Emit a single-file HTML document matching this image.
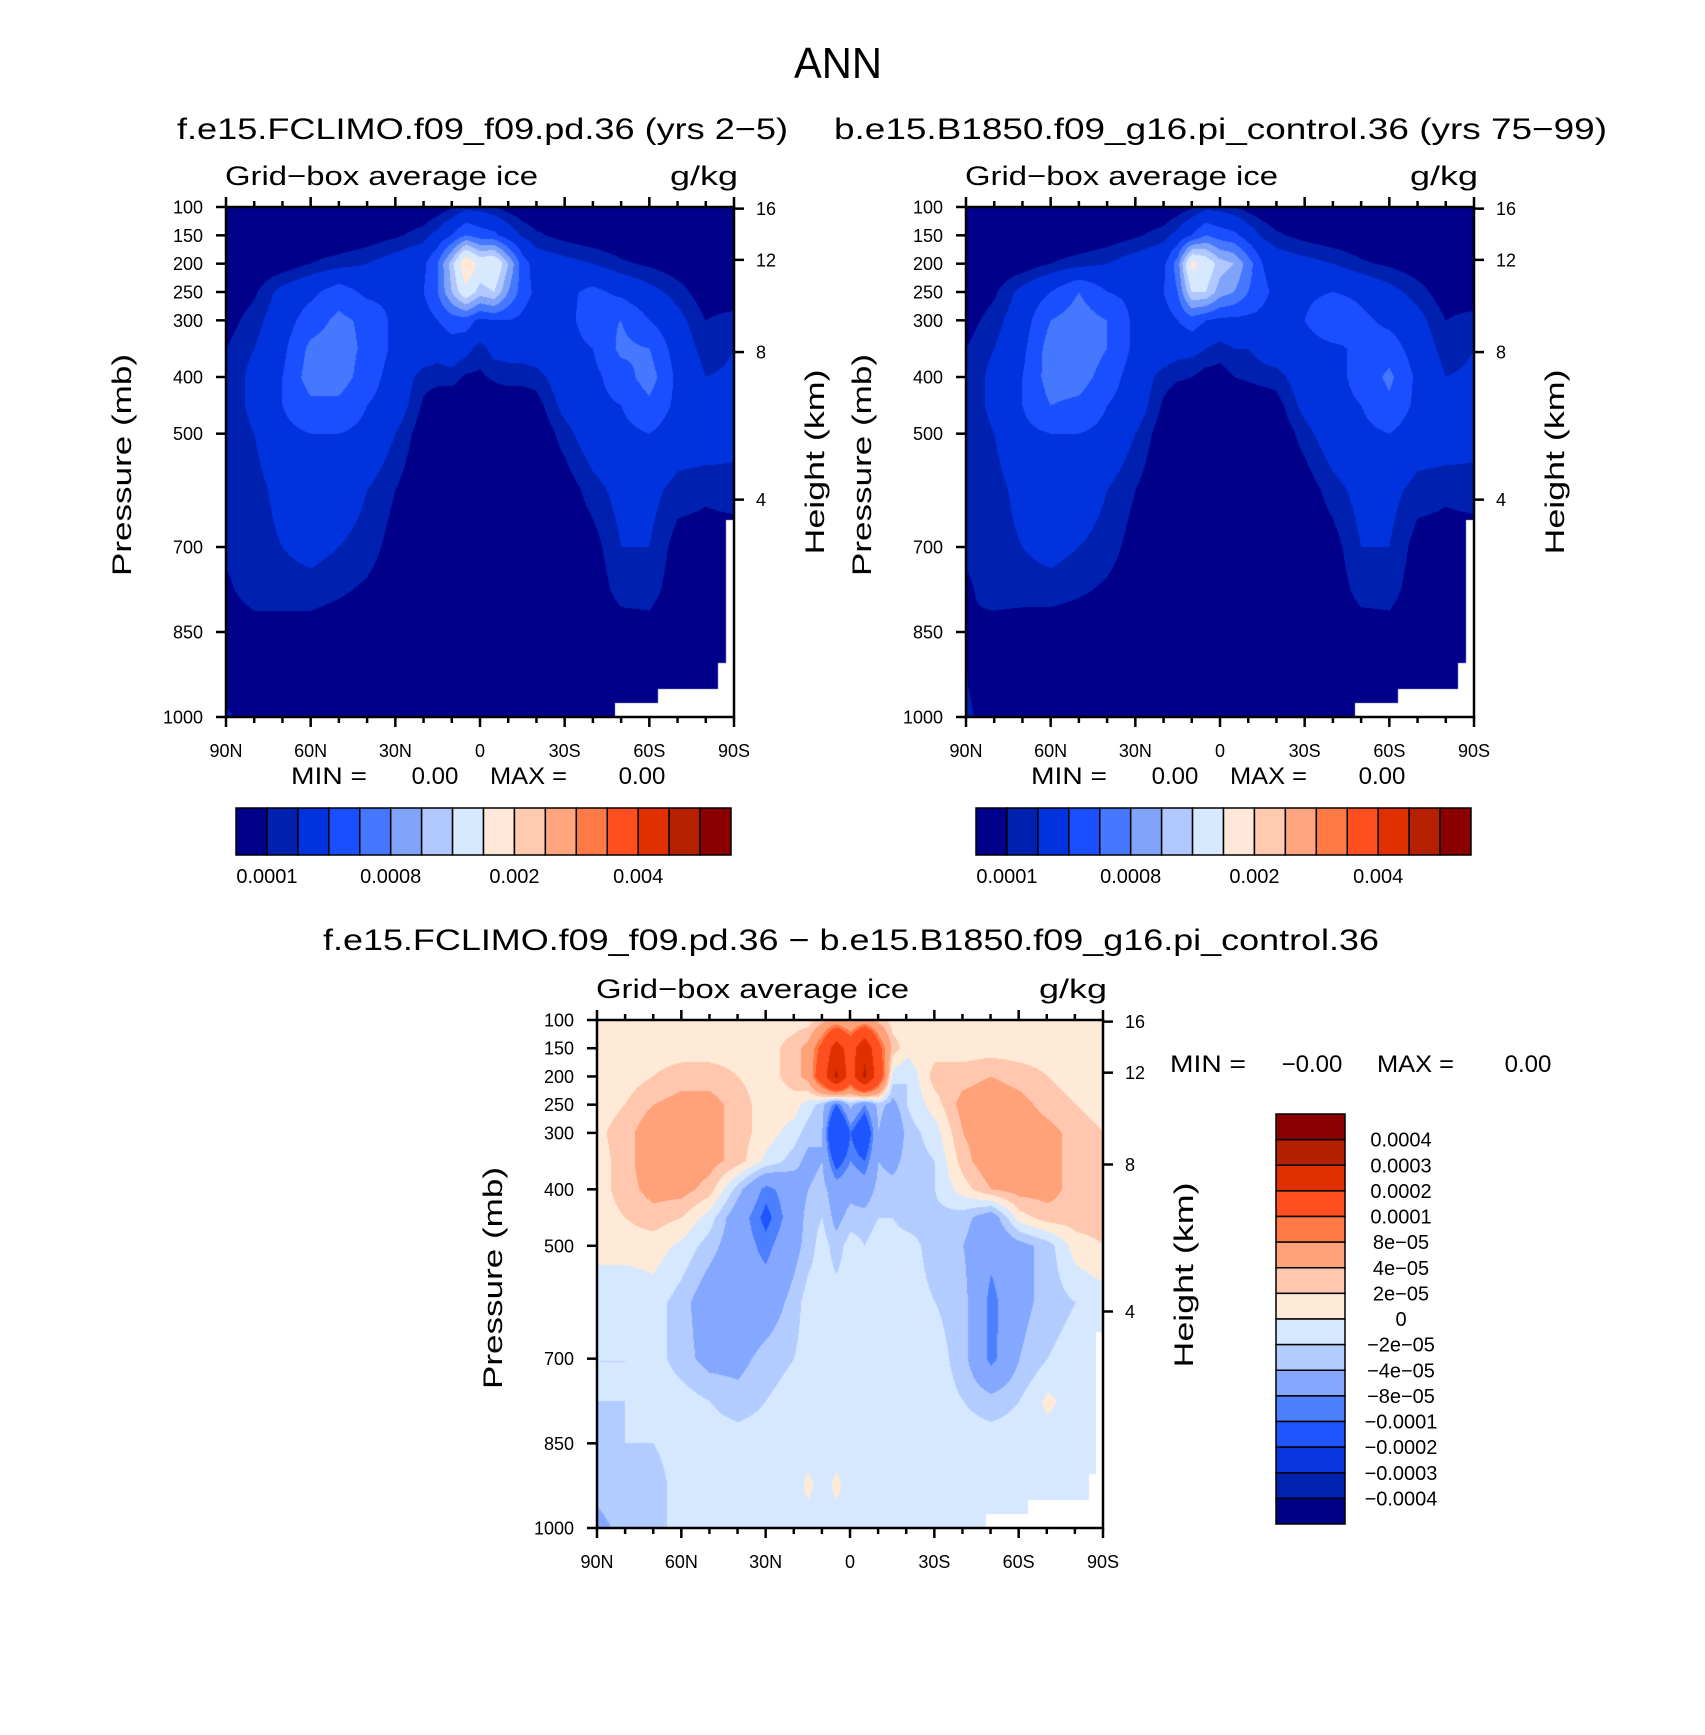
<!DOCTYPE html>
<html><head><meta charset="utf-8"><style>
html,body{margin:0;padding:0;background:#fff;}
#root{position:relative;width:1705px;height:1735px;overflow:hidden;}
canvas{position:absolute;}
svg{position:absolute;left:0;top:0;}
text{font-family:"Liberation Sans",sans-serif;fill:#000;}
</style></head><body>
<div id="root">
<canvas id="c1" width="508" height="510" style="left:226px;top:207px"></canvas>
<canvas id="c2" width="508" height="510" style="left:966px;top:207px"></canvas>
<canvas id="c3" width="507" height="508" style="left:597px;top:1020px"></canvas>
<svg id="svg" width="1705" height="1735"></svg>
</div>
<script>
// ---------- data ----------
const lats = [90,80,70,60,50,40,30,20,15,10,5,0,-5,-10,-15,-20,-30,-40,-50,-60,-70,-80,-90];
const pres = [100,150,200,250,300,350,400,450,500,600,700,775,850,925,1000];
const valueScale = 1e-4;
const absLevels = [1,2,4,6,8,10,12,15,20,25,30,35,40,45,50];
const absColors = ["#00008A","#0020B0","#0033DD","#1A4FFF","#4577FF","#80A4FA","#B0C8FF","#D7E9FF","#FFE8D8","#FFCAB0","#FFA680","#FF7A45","#FF4F1F","#E03000","#B42000","#8A0000"];
const absLabels = ["0.0001","0.0008","0.002","0.004"];
const absLabelIdx = [1,5,9,13];
const diffLevels = [-4,-3,-2,-1,-0.8,-0.4,-0.2,0,0.2,0.4,0.8,1,2,3,4];
const diffColors = ["#000087","#0022B0","#0A36E0","#1E55FF","#4D80FF","#84A8FF","#B3CCFF","#D6E8FF","#FFEAD8","#FFC8AE","#FFA27A","#FF7A45","#FF4F1F","#E03000","#B22000","#8B0000"];
const diffLabels = ["0.0004","0.0003","0.0002","0.0001","8e\u221205","4e\u221205","2e\u221205","0","\u22122e\u221205","\u22124e\u221205","\u22128e\u221205","\u22120.0001","\u22120.0002","\u22120.0003","\u22120.0004"];

const fieldLeft = [
[0,0,0,0,0,0,0,0,0.3,0.8,1.5,1.5,1,0.5,0.2,0,0,0,0,0,0,0,0],
[0,0,0,0,0,0.3,0.8,1.5,2.5,4,6,5,4.5,3,1.8,1.2,0.6,0.2,0,0,0,0,0],
[0,0,0.3,1,1.5,2,2.8,3.5,6,11,18,14,15,10,5,3,2.5,2,1.2,0.8,0.3,0,0],
[0,0.8,2.5,3.5,5,3.5,3.5,4,6,10,14,11,12,8,5,3.5,3.5,4.5,3.5,2.5,1.5,0.3,0],
[0.5,1.5,3,5,6.5,5.5,3.5,3,4,5,5,3.5,4,4,3.5,3,3,5.5,6,4,2.5,1,1.5],
[1,2,3.5,6.5,7,5.5,3.5,3,2.5,3,2.5,1.5,2.5,2.5,2.5,3,3,4,6.5,6,3,1.5,2],
[1,2.5,4,7,7,5,3,1.5,1.5,1.5,0.8,0.8,1.2,1.5,1.5,1.5,3,3.5,5,7,3.5,2,2.2],
[1,2.5,4,5.5,5.5,4,3,0.8,0,0,0,0,0,0,0,0.5,2.5,3.5,4,5.5,3.5,2.5,2.5],
[1,2,3.5,4,4,3.5,2,0.3,0,0,0,0,0,0,0,0,1.5,3,3.5,4,3,3,2.5],
[1.2,1.5,2.5,3,3,2,1,0,0,0,0,0,0,0,0,0,0.3,1.5,2.5,2.5,1.5,1.2,1.5],
[1.2,1.5,2,2.5,2,1.5,0.5,0,0,0,0,0,0,0,0,0,0,0.5,2,2,0.5,0.5,0.3],
[0.8,1.5,1.5,1.5,1.2,0.8,0.2,0,0,0,0,0,0,0,0,0,0,0.2,1.5,1.5,0.3,0.3,0],
[0.3,0.5,0.5,0.5,0.3,0.2,0,0,0,0,0,0,0,0,0,0,0,0,0.3,0.5,0,0,0],
[0.3,0.2,0,0,0,0,0,0,0,0,0,0,0,0,0,0,0,0,0,0,0,0,0],
[1.2,0.5,0.2,0,0,0,0,0,0,0,0,0,0,0,0,0,0,0,0,0,0,0,0]
];
const fieldRight = [
[0,0,0,0,0,0,0,0,0.3,0.8,1.5,1.5,1,0.5,0.2,0,0,0,0,0,0,0,0],
[0,0,0,0,0,0.3,0.8,1.5,2.5,4,6,5,4.5,3,1.8,1.2,0.6,0.2,0,0,0,0,0],
[0,0,0.3,1,1.5,2,2.8,3.5,7,16,14,11,10,7,4,3,2.5,2,1.2,0.8,0.3,0,0],
[0,0.8,2.5,4,6,4,3.5,4,6,12,12,9,8,6,4.5,3.5,3.5,4,3.5,2.5,1.5,0.3,0],
[0.5,1.5,3,6,7,6,3.5,3,4,5,4,3.5,3.5,3.5,3.5,3,4,6,4.5,3.5,2.5,1,1.5],
[1,2,3.5,7,7.5,6,3.5,3,2.5,2.5,2,1.5,2,2,2.5,3,3,3.5,4.5,5,3,1.5,2],
[1,2.5,4,7,7,5,3,1.5,1.2,1,0.5,0.5,1,1.2,1.5,1.5,3,3.5,4.5,6.5,3.5,2,2.2],
[1,2.5,4,6,5.5,4,3,0.8,0,0,0,0,0,0,0,0.5,2.5,3.5,4,5.5,3.5,2.5,2.5],
[1,2,3.5,4,4,3.5,2,0.3,0,0,0,0,0,0,0,0,1.5,3,3.5,4,3,3,2.5],
[1.2,1.5,2.5,3,3,2,1,0,0,0,0,0,0,0,0,0,0.3,1.5,2.5,2.5,1.5,1.2,1.5],
[1.2,1.5,2,2.5,2,1.5,0.5,0,0,0,0,0,0,0,0,0,0,0.5,2,2,0.5,0.5,0.3],
[0.8,1.5,1.5,1.5,1.2,0.8,0.2,0,0,0,0,0,0,0,0,0,0,0.2,1.5,1.5,0.3,0.3,0],
[1,0.5,0.3,0.3,0.2,0.1,0,0,0,0,0,0,0,0,0,0,0,0,0.3,0.5,0,0,0],
[1,0.3,0,0,0,0,0,0,0,0,0,0,0,0,0,0,0,0,0,0,0,0,0],
[1.2,0.5,0.2,0,0,0,0,0,0,0,0,0,0,0,0,0,0,0,0,0,0,0,0]
];
const fieldDiff = [
[.1,.1,.1,.1,.1,.1,.1,.1,.1,.3,.5,.3,.5,.3,.1,.1,.1,.1,.1,.1,.1,.1,.1],
[.1,.1,.1,.1,.1,.1,.1,.3,.5,1.2,2.5,1.5,2.8,1.2,.3,.1,.1,.1,.1,.1,.1,.1,.1],
[.1,.1,.2,.3,.3,.2,.1,.3,.5,1.5,3.2,1.5,3.2,1.5,-.1,-.2,.3,.3,.4,.3,.2,.1,.1],
[.1,.2,.4,.5,.5,.3,.1,.1,-.1,-.3,-1,-.3,-.8,-.3,-.5,-.2,.1,.5,.6,.5,.3,.2,.1],
[.15,.3,.6,.6,.5,.3,.1,-.1,-.3,-.4,-2,-1,-1.5,-.4,-.8,-.3,-.1,.4,.6,.6,.5,.3,.2],
[.1,.3,.6,.6,.5,.3,-.05,-.3,-.5,-.4,-1.2,-.8,-1,-.4,-.5,-.3,-.2,.3,.6,.6,.5,.3,.3],
[.1,.3,.5,.5,.3,-.3,-.9,-.6,-.4,-.3,-.6,-.5,-.6,-.3,-.3,-.3,-.2,.1,.4,.5,.5,.3,.3],
[.1,.2,.3,.2,-.1,-.6,-1.1,-.6,-.3,-.2,-.5,-.3,-.3,-.2,-.2,-.3,-.25,-.3,-.6,.1,.3,.3,.3],
[.05,.1,.1,-.05,-.3,-.6,-.9,-.5,-.3,-.1,-.3,-.1,-.2,-.1,-.1,-.1,-.3,-.4,-.7,-.5,-.3,.1,.2],
[-.1,-.2,-.1,-.3,-.6,-.7,-.6,-.3,-.1,-.1,-.1,-.1,-.1,-.1,-.1,-.1,-.2,-.3,-.9,-.5,-.3,-.2,-.1],
[-.2,-.2,-.1,-.3,-.5,-.5,-.3,-.2,-.1,-.1,-.1,-.1,-.1,-.1,-.1,-.1,-.1,-.3,-.9,-.4,-.2,-.1,-.1],
[-.2,-.2,-.1,-.1,-.2,-.3,-.2,-.1,-.1,-.1,-.1,-.05,-.1,-.1,-.1,-.1,-.1,-.2,-.3,-.2,.05,-.1,-.1],
[-.3,-.2,-.2,-.1,-.1,-.1,-.1,-.1,-.1,-.1,-.1,-.05,-.1,-.1,-.1,-.1,-.1,-.1,-.1,-.1,-.1,-.1,-.1],
[-.3,-.25,-.3,-.1,-.1,-.1,-.1,-.1,.05,-.1,.05,-.1,-.1,-.1,-.1,-.1,-.1,-.1,-.1,-.1,-.1,-.1,-.1],
[-.5,-.3,-.3,-.1,-.1,-.1,-.1,-.1,-.1,-.1,-.1,-.1,-.1,-.1,-.1,-.1,-.1,-.1,-.1,-.1,-.1,-.1,-.1]
];
// missing-data regions (lat range, top pressure)
const missingLatFrom = [-48,-63,-84.5,-87];
const missingPTop = [975,950,905,652];

const latTickVals = [90,60,30,0,-30,-60,-90];
const latTickLabels = ["90N","60N","30N","0","30S","60S","90S"];
const pTickVals = [100,150,200,250,300,400,500,700,850,1000];
const hTickVals = [16,12,8,4];

// ---------- helpers ----------
function findIdx(arr, v, desc){
  for(let i=0;i<arr.length-1;i++){
    const a=arr[i], b=arr[i+1];
    if(desc ? (v<=a && v>=b) : (v>=a && v<=b)) return [i,(v-a)/(b-a)];
  }
  return [arr.length-2,1];
}
function interp(field, lat, p){
  const [i,fx]=findIdx(lats,lat,true);
  const [j,fy]=findIdx(pres,p,false);
  const a=field[j][i], b=field[j][i+1], c=field[j+1][i], d=field[j+1][i+1];
  return (a*(1-fx)+b*fx)*(1-fy)+(c*(1-fx)+d*fx)*fy;
}
function hexRgb(h){return [parseInt(h.substr(1,2),16),parseInt(h.substr(3,2),16),parseInt(h.substr(5,2),16)];}
function drawField(id, field, levels, colors){
  const cv=document.getElementById(id), ctx=cv.getContext('2d');
  const W=cv.width,H=cv.height, img=ctx.createImageData(W,H);
  const rgb=colors.map(hexRgb);
  for(let y=0;y<H;y++){
    const p=100+(y+0.5)/H*900;
    for(let x=0;x<W;x++){
      const lat=90-(x+0.5)/W*180;
      let miss=false;
      for(let m=0;m<missingLatFrom.length;m++) if(lat<=missingLatFrom[m] && p>=missingPTop[m]) miss=true;
      const o=(y*W+x)*4;
      if(miss){img.data[o]=255;img.data[o+1]=255;img.data[o+2]=255;img.data[o+3]=255;continue;}
      const v=interp(field,lat,p);
      let k=0; while(k<levels.length && v>=levels[k]) k++;
      const c=rgb[k];
      img.data[o]=c[0];img.data[o+1]=c[1];img.data[o+2]=c[2];img.data[o+3]=255;
    }
  }
  ctx.putImageData(img,0,0);
}
drawField('c1',fieldLeft,absLevels,absColors);
drawField('c2',fieldRight,absLevels,absColors);
drawField('c3',fieldDiff,diffLevels,diffColors);

// ---------- SVG annotations ----------
const NS="http://www.w3.org/2000/svg", svg=document.getElementById('svg');
function mk(tag, attrs, parent){
  const e=document.createElementNS(NS,tag);
  for(const k in attrs) e.setAttribute(k,attrs[k]);
  (parent||svg).appendChild(e); return e;
}
function txt(s, x, y, size, anchor, len, name){
  const t=mk('text',{x:x,y:y,'font-size':size,'text-anchor':anchor||'start'});
  if(len){t.setAttribute('textLength',len);t.setAttribute('lengthAdjust','spacingAndGlyphs');}
  t.textContent=s;
  
  
  return t;
}
function hToP(z){ z*=1000; return z<=11000 ? 1013.25*Math.pow(1-2.25577e-5*z,5.25588) : 226.32*Math.exp(-(z-11000)/6341.6); }

function axes(x0,x1,y0,y1,prefix){
  const W=x1-x0,H=y1-y0;
  const X=lat=>x0+(90-lat)/180*W, Y=p=>y0+(p-100)/900*H;
  const g=mk('g',{stroke:'#000','stroke-width':2.5,fill:'none'});
  
  
  mk('rect',{x:x0,y:y0,width:W,height:H},g);
  for(let l=90;l>=-90;l-=10){
    const major=(l%30===0), len=major?10:6;
    mk('line',{x1:X(l),x2:X(l),y1:y1,y2:y1+len},g);
    mk('line',{x1:X(l),x2:X(l),y1:y0,y2:y0-len},g);
  }
  pTickVals.forEach(p=>{ mk('line',{x1:x0-10,x2:x0,y1:Y(p),y2:Y(p)},g);
    txt(String(p),x0-23,Y(p)+6.5,18,'end',null,prefix+'-pressure-tick-label'); });
  hTickVals.forEach(h=>{ const y=Y(hToP(h)); mk('line',{x1:x1,x2:x1+10,y1:y,y2:y},g);
    txt(String(h),x1+22,y+6.5,18,'start',null,prefix+'-height-tick-label'); });
  latTickVals.forEach((l,i)=>{ txt(latTickLabels[i],X(l),y1+40,18,'middle',null,prefix+'-lat-tick-label'); });
  txt('Grid\u2212box  average  ice',x0-1,y0-22,27,'start',313,prefix+'-variable-title');
  txt('g/kg',x1+4,y0-22,27,'end',68,prefix+'-units');
  const pt=txt('Pressure  (mb)',0,0,27,'middle',222,prefix+'-y-axis-title');
  pt.setAttribute('transform','translate('+(x0-95)+','+(y0+258)+') rotate(-90)');
  const ht=txt('Height  (km)',0,0,27,'middle',185,prefix+'-right-axis-title');
  ht.setAttribute('transform','translate('+(x1+90)+','+(y0+255)+') rotate(-90)');
}
axes(226,734,207,717,'left');
axes(966,1474,207,717,'right');
axes(597,1103,1020,1528,'diff');

txt('ANN',838,78,44,'middle',88,'figure-title');
txt('f.e15.FCLIMO.f09_f09.pd.36  (yrs  2\u22125)',177,139,30,'start',611,'left-subtitle');
txt('b.e15.B1850.f09_g16.pi_control.36  (yrs  75\u221299)',834,139,30,'start',773,'right-subtitle');
txt('f.e15.FCLIMO.f09_f09.pd.36  \u2212  b.e15.B1850.f09_g16.pi_control.36',323,950,30,'start',1056,'diff-title');

function minmax(x0, y, neg, prefix, o1, o2, o3){
  txt('MIN  =',x0,y,24,'start',76,prefix+'-min-label');
  txt(neg?'\u22120.00':'0.00',x0+o1,y,24,'middle',null,prefix+'-min-value');
  txt('MAX  =',x0+o2,y,24,'start',77,prefix+'-max-label');
  txt('0.00',x0+o3,y,24,'middle',null,prefix+'-max-value');
}
minmax(291,784,false,'left',144,199,351);
minmax(1031,784,false,'right',144,199,351);
minmax(1170,1072,true,'diff',142,207,358);

function hbar(x0,x1,y0,y1,prefix){
  const w=(x1-x0)/absColors.length;
  absColors.forEach((c,i)=>{ const r=mk('rect',{x:x0+i*w,y:y0,width:w,height:y1-y0,fill:c,stroke:'#000','stroke-width':1.5});
    
     });
  absLabels.forEach((s,i)=>{ txt(s,x0+absLabelIdx[i]*w,y1+28,20,'middle',null,prefix+'-colorbar-label'); });
}
hbar(236,731,808,855,'left');
hbar(976,1471,808,855,'right');

(function vbar(){
  const x0=1276,x1=1345,y0=1114,y1=1524,h=(y1-y0)/diffColors.length;
  diffColors.slice().reverse().forEach((c,i)=>{ const r=mk('rect',{x:x0,y:y0+i*h,width:x1-x0,height:h,fill:c,stroke:'#000','stroke-width':1.5});
    
     });
  diffLabels.forEach((s,i)=>{ txt(s,1401,y0+(i+1)*h+7,20,'middle',null,'diff-colorbar-label'); });
})();
</script>
</body></html>
